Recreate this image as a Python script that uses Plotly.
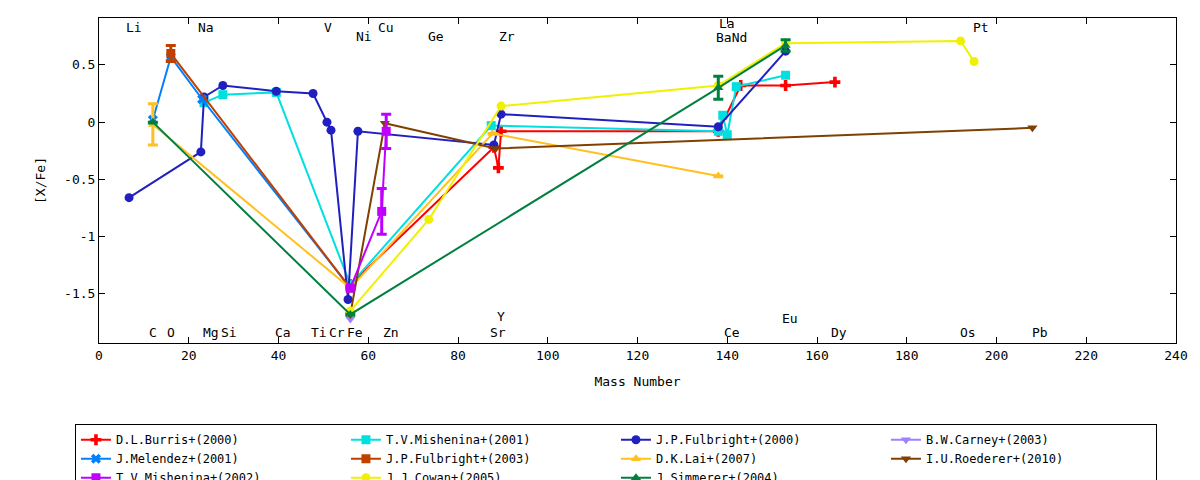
import plotly.graph_objects as go

# Element labels
top_labels = ["Li", "Na", "V", "Ni", "Cu", "Ge", "Zr", "La", "BaNd", "Pt"]
top_x = [7.8, 23.8, 51.0, 59.0, 63.9, 75.0, 91.0, 140.0, 141.0, 196.5]
top_y = [0.83, 0.83, 0.83, 0.75, 0.83, 0.75, 0.75, 0.86, 0.74, 0.83]
bot_labels = ["C", "O", "Mg", "Si", "Ca", "Ti", "Cr", "Fe", "Zn", "Sr", "Y", "Ce", "Eu", "Dy", "Os", "Pb"]
bot_x = [12.0, 16.0, 25.0, 29.0, 41.0, 49.0, 53.0, 57.0, 65.0, 89.0, 89.5, 141.0, 154.0, 165.0, 193.6, 209.7]
bot_y = [-1.84, -1.84, -1.84, -1.84, -1.84, -1.84, -1.84, -1.84, -1.84, -1.84, -1.70, -1.84, -1.72, -1.84, -1.84, -1.84]

# Series
burris_x = [56, 88, 89, 89.6, 138, 143, 153, 164]
burris_y = [-1.42, -0.22, -0.40, -0.08, -0.08, 0.32, 0.32, 0.35]

mish01_x = [23.4, 27.6, 39.5, 56, 87.4, 138, 139, 140, 142, 153]
mish01_y = [0.17, 0.24, 0.26, -1.42, -0.03, -0.08, 0.06, -0.11, 0.31, 0.41]

fulb00_x = [6.7, 22.7, 23.4, 27.6, 39.5, 47.7, 50.8, 51.7, 55.5, 57.7, 88.0, 89.6, 138, 153]
fulb00_y = [-0.66, -0.26, 0.22, 0.32, 0.27, 0.25, 0.0, -0.07, -1.55, -0.08, -0.20, 0.07, -0.04, 0.62]

carney_x = [56]
carney_y = [-1.72]

melendez_x = [12, 16, 23, 56]
melendez_y = [0.02, 0.57, 0.20, -1.45]

fulb03_x = [16, 56]
fulb03_y = [0.60, -1.45]
fulb03_e = [0.07, 0.0]

lai_x = [12, 56, 87.7, 138]
lai_y = [-0.02, -1.45, -0.10, -0.47]
lai_e = [0.18, 0.0, 0.0, 0.0]

roed_x = [56, 63.7, 88.4, 208]
roed_y = [-1.68, -0.01, -0.23, -0.05]

mish02_x = [56, 63, 64]
mish02_y = [-1.45, -0.78, -0.08]
mish02_e = [0.0, 0.2, 0.15]

cowan_x = [56, 73.5, 89.6, 138, 153, 192, 195]
cowan_y = [-1.65, -0.85, 0.14, 0.32, 0.69, 0.71, 0.53]

simm_x = [12, 56, 138, 153]
simm_y = [0.0, -1.68, 0.30, 0.67]
simm_e = [0.0, 0.0, 0.10, 0.05]

FONT = "DejaVu Sans Mono"

def tr(name, x, y, color, symbol, err=None):
    t = go.Scatter(x=x, y=y, name=name, mode="lines+markers",
                   line=dict(color=color, width=2),
                   marker=dict(color=color, symbol=symbol, size=9))
    if err is not None:
        t.error_y = dict(type="data", array=err, visible=True, color=color, thickness=3, width=5)
    return t

fig = go.Figure()
fig.add_trace(tr("D.L.Burris+(2000)", burris_x, burris_y, "#ff0000", "cross"))
fig.add_trace(tr("T.V.Mishenina+(2001)", mish01_x, mish01_y, "#00e0e0", "square"))
fig.add_trace(tr("J.P.Fulbright+(2000)", fulb00_x, fulb00_y, "#2020c0", "circle"))
fig.add_trace(tr("B.W.Carney+(2003)", carney_x, carney_y, "#a080ff", "triangle-down"))
fig.add_trace(tr("J.Melendez+(2001)", melendez_x, melendez_y, "#0080ff", "x"))
fig.add_trace(tr("J.P.Fulbright+(2003)", fulb03_x, fulb03_y, "#c04000", "square", fulb03_e))
fig.add_trace(tr("D.K.Lai+(2007)", lai_x, lai_y, "#ffc020", "triangle-up", lai_e))
fig.add_trace(tr("I.U.Roederer+(2010)", roed_x, roed_y, "#804000", "triangle-down"))
fig.add_trace(tr("T.V.Mishenina+(2002)", mish02_x, mish02_y, "#c000ff", "square", mish02_e))
fig.add_trace(tr("J.J.Cowan+(2005)", cowan_x, cowan_y, "#f0f000", "circle"))
fig.add_trace(tr("J.Simmerer+(2004)", simm_x, simm_y, "#008040", "triangle-up", simm_e))

for lab, x, y in zip(top_labels + bot_labels, top_x + bot_x, top_y + bot_y):
    fig.add_annotation(x=x, y=y, text=lab, showarrow=False, font=dict(family=FONT, size=13, color="black"))

axis_common = dict(showline=True, mirror="ticks", linecolor="black", linewidth=1,
                   ticks="inside", ticklen=6, tickcolor="black", showgrid=False, zeroline=False,
                   tickfont=dict(family=FONT, size=13, color="black"))
fig.update_xaxes(range=[0, 240], dtick=20, title=dict(text="Mass Number", font=dict(family=FONT, size=13)), **axis_common)
fig.update_yaxes(range=[-1.93, 0.91], tickvals=[-1.5, -1, -0.5, 0, 0.5], ticktext=["-1.5", "-1", "-0.5", "0", "0.5"],
                 title=dict(text="[X/Fe]", font=dict(family=FONT, size=13)), **axis_common)

fig.update_layout(width=1200, height=480, margin=dict(l=91, r=32, t=10, b=145, autoexpand=False),
                  plot_bgcolor="white", paper_bgcolor="white",
                  font=dict(family=FONT, size=13, color="black"),
                  legend=dict(orientation="h", x=0.48, xanchor="center", y=-0.25, yanchor="top",
                              entrywidth=225, bordercolor="black", borderwidth=1, tracegroupgap=0,
                              font=dict(family=FONT, size=12)))
fig.write_html("out.html")
